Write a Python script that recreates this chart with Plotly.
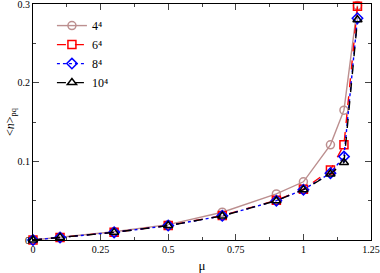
import plotly.graph_objects as go

mu = [0, 0.1, 0.3, 0.5, 0.7, 0.9, 1.0, 1.1, 1.15, 1.2]
n_4 = [0.0, 0.0035, 0.0105, 0.0195, 0.0353, 0.0586, 0.074, 0.121, 0.165, 0.298]
n_6 = [0.0, 0.0033, 0.0098, 0.0185, 0.0310, 0.0505, 0.0645, 0.089, 0.121, 0.297]
n_8 = [0.0, 0.0033, 0.0097, 0.0183, 0.0307, 0.0500, 0.0640, 0.085, 0.106, 0.282]
n_10 = [0.0, 0.0033, 0.0097, 0.0183, 0.0306, 0.0500, 0.0640, 0.084, 0.0985, 0.280]
labels = ["4⁴", "6⁴", "8⁴", "10⁴"]

styles = [
    dict(color="#bc8f8f", dash="solid", symbol="circle-open"),
    dict(color="#ff0000", dash="dash", symbol="square-open"),
    dict(color="#0000ff", dash="dot", symbol="diamond-open"),
    dict(color="#000000", dash="dash", symbol="triangle-up-open"),
]

fig = go.Figure()
for ys, lab, st in zip([n_4, n_6, n_8, n_10], labels, styles):
    fig.add_trace(go.Scatter(
        x=mu, y=ys, name=lab, mode="lines+markers", cliponaxis=False,
        line=dict(color=st["color"], dash=st["dash"], width=1.4),
        marker=dict(symbol=st["symbol"], size=8, color=st["color"],
                    line=dict(width=1.5, color=st["color"])),
    ))

axis_common = dict(
    showgrid=False, zeroline=False, showline=True, linecolor="#000", linewidth=1,
    ticks="inside", ticklen=6, tickcolor="#444", mirror="ticks",
    tickfont=dict(family="Liberation Serif", size=10, color="#000"),
    automargin=False, ticklabeloverflow="allow",
)

fig.update_xaxes(
    range=[0, 1.25], tickvals=[0, 0.25, 0.5, 0.75, 1, 1.25],
    ticktext=["0", "0.25", "0.5", "0.75", "1", "1.25"],
    minor=dict(dtick=0.125, tick0=0, ticks="inside", ticklen=3, tickcolor="#444"),
    title=dict(text="μ", font=dict(family="Liberation Serif", size=13, color="#000"), standoff=12),
    **axis_common,
)
fig.update_yaxes(
    range=[0, 0.3], tickvals=[0, 0.1, 0.2, 0.3], ticktext=["0", "0.1", "0.2", "0.3"],
    minor=dict(dtick=0.05, tick0=0, ticks="inside", ticklen=3, tickcolor="#444"),
    title=dict(text="&lt;<i>n</i>&gt;<sub>pq</sub>",
               font=dict(family="Liberation Serif", size=12, color="#000"), standoff=0),
    **axis_common,
)

fig.update_layout(
    width=380, height=273,
    margin=dict(l=33, r=9, t=4, b=33),
    paper_bgcolor="white", plot_bgcolor="white",
    font=dict(family="Liberation Serif", color="#000"),
    showlegend=True,
    legend=dict(x=0.056, y=0.97, xanchor="left", yanchor="top",
                bgcolor="rgba(0,0,0,0)", font=dict(size=12, family="Liberation Serif"),
                itemwidth=30, tracegroupgap=0),
)

fig.write_html(
    "out.html",
    config={"displayModeBar": False},
    post_script="document.body.style.margin='0';document.documentElement.style.margin='0';",
)
